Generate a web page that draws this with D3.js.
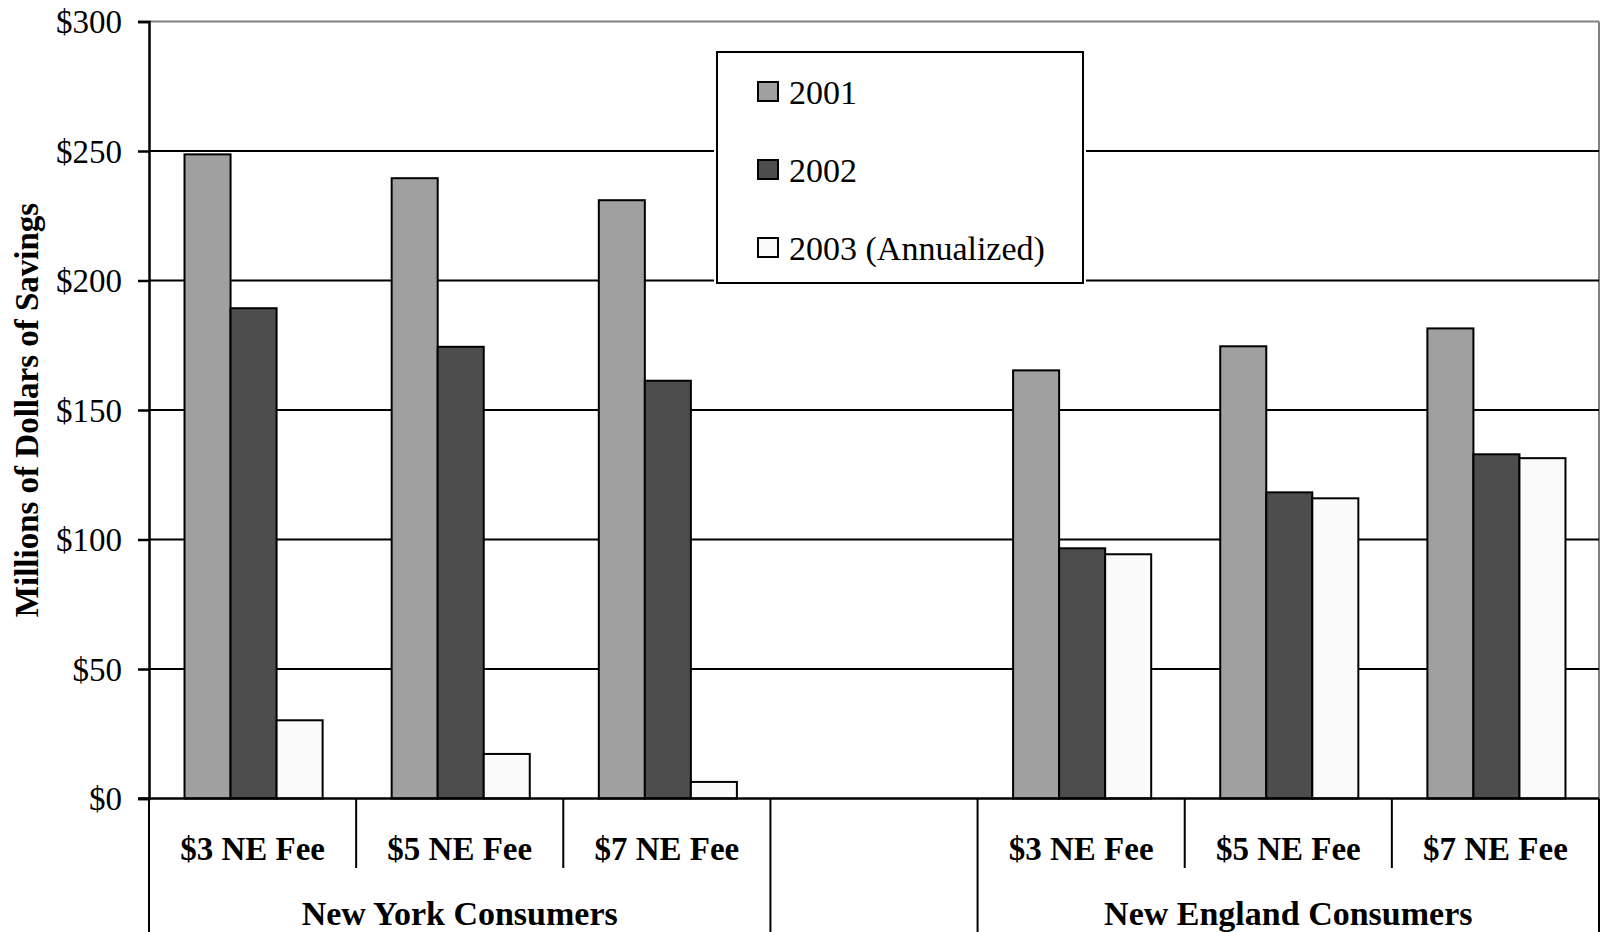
<!DOCTYPE html>
<html>
<head>
<meta charset="utf-8">
<script src="https://cdn.jsdelivr.net/npm/d3@7"></script>
<style>
  html, body { margin: 0; padding: 0; background: #fff; }
  svg { display: block; }
  text { font-family: "Liberation Serif", "Times New Roman", serif; fill: #000; }
</style>
</head>
<body>
<svg id="chart" width="1610" height="932"></svg>
<script>
// ---- data ----
const groups = ["New York Consumers", "", "New England Consumers"];
const categories = [
  {key: "ny3", label: "$3 NE Fee", group: "New York Consumers"},
  {key: "ny5", label: "$5 NE Fee", group: "New York Consumers"},
  {key: "ny7", label: "$7 NE Fee", group: "New York Consumers"},
  {key: "blank", label: "", group: ""},
  {key: "ne3", label: "$3 NE Fee", group: "New England Consumers"},
  {key: "ne5", label: "$5 NE Fee", group: "New England Consumers"},
  {key: "ne7", label: "$7 NE Fee", group: "New England Consumers"}
];
const seriesNames = ["2001", "2002", "2003 (Annualized)"];
const values2001 = [248.7, 239.5, 231.0, null, 165.3, 174.6, 181.5];
const values2002 = [189.3, 174.4, 161.3, null, 96.6, 118.2, 132.9];
const values2003 = [30.2, 17.2, 6.4, null, 94.3, 115.9, 131.4];
const seriesValues = [values2001, values2002, values2003];
const seriesColors = ["#a0a0a0", "#4d4d4d", "#fafafa"];
const yTicks = [0, 50, 100, 150, 200, 250, 300];

// ---- layout ----
const svg = d3.select("#chart");
const plot = {left: 149, right: 1599, top: 21.5, bottom: 798.5};

const x = d3.scaleBand()
  .domain(categories.map(c => c.key))
  .range([plot.left, plot.right])
  .padding(0);

const xs = d3.scaleBand()
  .domain(seriesNames)
  .range([1, x.bandwidth() + 1])
  .paddingInner(0)
  .paddingOuter(0.75);

const y = d3.scaleLinear().domain([0, 300]).range([plot.bottom, plot.top]);

// plot border (gray top/right)
svg.append("line").attr("x1", plot.left).attr("x2", plot.right)
  .attr("y1", plot.top).attr("y2", plot.top)
  .attr("stroke", "#808080").attr("stroke-width", 2);
svg.append("line").attr("x1", plot.right).attr("x2", plot.right)
  .attr("y1", plot.top).attr("y2", plot.bottom)
  .attr("stroke", "#808080").attr("stroke-width", 2);

// gridlines
svg.append("g").selectAll("line")
  .data(yTicks.filter(t => t > 0 && t < 300))
  .join("line")
  .attr("x1", plot.left).attr("x2", plot.right)
  .attr("y1", d => y(d)).attr("y2", d => y(d))
  .attr("stroke", "#000").attr("stroke-width", 2);

// y axis
const yAxis = d3.axisLeft(y).tickValues(yTicks)
  .tickFormat(d => "$" + d).tickSize(11).tickPadding(16);
const gy = svg.append("g").attr("transform", `translate(${plot.left},0)`).call(yAxis);
gy.select(".domain").attr("stroke", "#000").attr("stroke-width", 2.5);
gy.selectAll(".tick line").attr("stroke", "#000").attr("stroke-width", 2.5);
gy.selectAll(".tick text")
  .style("font-family", "'Liberation Serif', 'Times New Roman', serif")
  .style("font-size", "33px").attr("fill", "#000").attr("dy", "0.34em");

// y title
svg.append("text")
  .attr("transform", `translate(38,410) rotate(-90)`)
  .attr("text-anchor", "middle")
  .style("font-size", "33px").style("font-weight", "bold")
  .text("Millions of Dollars of Savings");

// bars
seriesNames.forEach((s, si) => {
  svg.append("g").selectAll("rect")
    .data(categories.map((c, i) => ({c, v: seriesValues[si][i]})).filter(d => d.v != null))
    .join("rect")
    .attr("x", d => x(d.c.key) + xs(s))
    .attr("width", xs.bandwidth())
    .attr("y", d => y(d.v))
    .attr("height", d => y(0) - y(d.v))
    .attr("fill", seriesColors[si])
    .attr("stroke", "#000").attr("stroke-width", 2);
});

// x axis baseline
svg.append("line").attr("x1", plot.left - 11).attr("x2", plot.right)
  .attr("y1", plot.bottom).attr("y2", plot.bottom)
  .attr("stroke", "#000").attr("stroke-width", 2.5);

// category separators
const boundaries = categories.map(c => x(c.key)).concat([plot.right]);
const groupBoundaryIdx = [0, 3, 4, 7];
boundaries.forEach((bx, i) => {
  const full = groupBoundaryIdx.includes(i);
  svg.append("line")
    .attr("x1", bx).attr("x2", bx)
    .attr("y1", plot.bottom).attr("y2", full ? 932 : 868)
    .attr("stroke", "#000").attr("stroke-width", 2);
});

// category labels
svg.append("g").selectAll("text")
  .data(categories.filter(c => c.label))
  .join("text")
  .attr("x", d => x(d.key) + x.bandwidth() / 2)
  .attr("y", 860)
  .attr("text-anchor", "middle")
  .style("font-size", "33px").style("font-weight", "bold")
  .text(d => d.label);

// group labels
groups.forEach(g => {
  if (!g) return;
  const cs = categories.filter(c => c.group === g);
  const x0 = x(cs[0].key), x1 = x(cs[cs.length - 1].key) + x.bandwidth();
  svg.append("text")
    .attr("x", (x0 + x1) / 2).attr("y", 925)
    .attr("text-anchor", "middle")
    .style("font-size", "34px").style("font-weight", "bold")
    .text(g);
});

// legend
const lg = svg.append("g");
lg.append("rect").attr("x", 714).attr("y", 49).attr("width", 372).attr("height", 237)
  .attr("fill", "#fff");
lg.append("rect").attr("x", 717).attr("y", 52).attr("width", 366).attr("height", 231)
  .attr("fill", "#fff").attr("stroke", "#000").attr("stroke-width", 2);
const rowY = [92, 170, 248];
seriesNames.forEach((s, i) => {
  lg.append("rect").attr("x", 758).attr("y", rowY[i] - 10).attr("width", 20).attr("height", 19)
    .attr("fill", seriesColors[i]).attr("stroke", "#000").attr("stroke-width", 2);
  lg.append("text").attr("x", 789).attr("y", rowY[i]).attr("dy", "0.35em")
    .style("font-size", "34px").text(s);
});
</script>
</body>
</html>
